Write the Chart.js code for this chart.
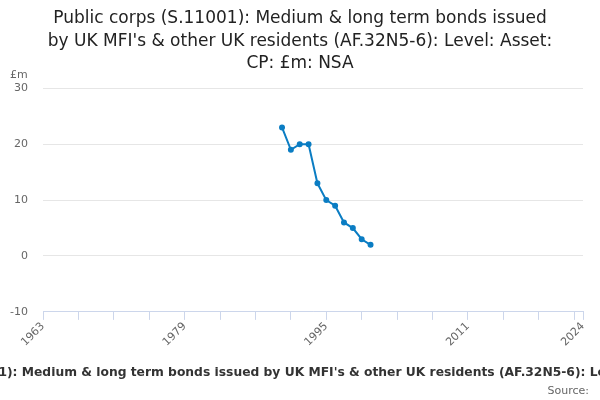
<!DOCTYPE html>
<html>
<head>
<meta charset="utf-8">
<script src="https://cdn.jsdelivr.net/npm/chart.js@4"></script>
<style>
  html, body { margin: 0; padding: 0; background: #fff; }
  #wrap { width: 600px; height: 400px; }
</style>
</head>
<body>
<div id="wrap"><canvas id="lineChart"></canvas></div>
<script>
// data
const years = [1990, 1991, 1992, 1993, 1994, 1995, 1996, 1997, 1998, 1999, 2000];
const values = [23, 19, 20, 20, 13, 10, 9, 6, 5, 3, 2];
const tickYears = [1963, 1967, 1971, 1975, 1979, 1983, 1987, 1991, 1995, 1999, 2003, 2007, 2011, 2015, 2019, 2023, 2024];
const labelYears = [1963, 1979, 1995, 2011, 2024];
const yTicks = [-10, 0, 10, 20, 30];

const titleLines = [
  'Public corps (S.11001): Medium & long term bonds issued',
  'by UK MFI\'s & other UK residents (AF.32N5-6): Level: Asset:',
  'CP: £m: NSA'
];
const fullTitle = 'Public corps (S.11001): Medium & long term bonds issued by UK MFI\'s & other UK residents (AF.32N5-6): Level: Asset: CP: £m: NSA';

Chart.defaults.font.family = '"DejaVu Sans", sans-serif';
Chart.defaults.color = '#666';

// "£m", the long x axis title (left to overflow like the original) and "Source:"
const extraText = {
  id: 'extraText',
  afterDraw(chart) {
    const ctx = chart.ctx;
    const area = chart.chartArea;
    ctx.save();
    ctx.font = '11px "DejaVu Sans", sans-serif';
    ctx.fillStyle = '#666';
    ctx.textAlign = 'left';
    ctx.textBaseline = 'middle';
    ctx.fillText('£m', 10, 75);

    ctx.textAlign = 'right';
    ctx.fillText('Source:', 589, 391);

    ctx.font = 'bold 12.3px "DejaVu Sans", sans-serif';
    ctx.fillStyle = '#333';
    ctx.textAlign = 'center';
    ctx.fillText(fullTitle, (area.left + area.right) / 2, 373);
    ctx.restore();
  }
};

const ctx = document.getElementById('lineChart');
const lineChart = new Chart(ctx, {
  type: 'line',
  data: {
    datasets: [{
      data: years.map((y, i) => ({ x: y, y: values[i] })),
      borderColor: '#0b7dc3',
      backgroundColor: '#0b7dc3',
      borderWidth: 2,
      pointRadius: 2,
      pointHoverRadius: 2,
      tension: 0,
      fill: false
    }]
  },
  plugins: [extraText],
  options: {
    responsive: true,
    maintainAspectRatio: false,
    animation: false,
    layout: { padding: { left: 0, right: 0, top: 0, bottom: 51 } },
    plugins: {
      legend: { display: false },
      tooltip: { enabled: false },
      title: {
        display: true,
        text: titleLines,
        color: '#222',
        font: { size: 17, weight: 'normal', lineHeight: 1.34 },
        padding: { top: 7, bottom: 13 }
      }
    },
    scales: {
      x: {
        type: 'linear',
        min: 1963,
        max: 2024,
        afterBuildTicks: scale => {
          scale.ticks = tickYears.map(v => ({ value: v }));
        },
        afterFit: scale => {
          scale.paddingRight = 17;
        },
        grid: {
          drawOnChartArea: false,
          drawTicks: true,
          tickLength: 8,
          color: '#ccd6eb'
        },
        border: { color: '#ccd6eb' },
        ticks: {
          autoSkip: false,
          minRotation: 45,
          maxRotation: 45,
          padding: 0,
          font: { size: 11 },
          callback: v => labelYears.includes(v) ? String(v) : ''
        }
      },
      y: {
        min: -10,
        max: 30,
        afterBuildTicks: scale => {
          scale.ticks = yTicks.map(v => ({ value: v }));
        },
        afterFit: scale => {
          scale.width = 43;
        },
        grid: {
          color: '#e6e6e6',
          drawTicks: false
        },
        border: { display: false },
        ticks: {
          padding: 15,
          font: { size: 11 }
        }
      }
    }
  }
});
</script>
</body>
</html>
